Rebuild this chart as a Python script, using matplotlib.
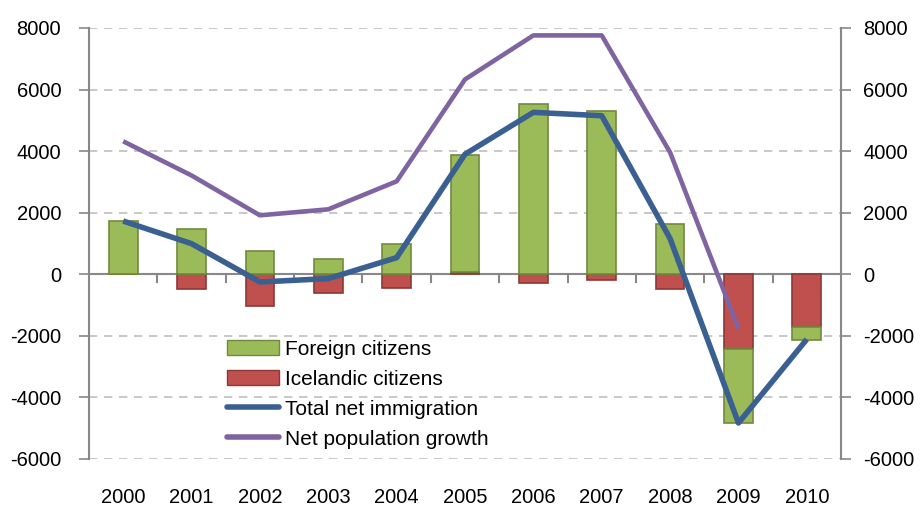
import matplotlib.pyplot as plt
import numpy as np
from matplotlib.lines import Line2D
from matplotlib.patches import Patch

years = ['2000', '2001', '2002', '2003', '2004', '2005', '2006', '2007', '2008', '2009', '2010']
icelandic = [0, -490, -1040, -620, -455, 80, -280, -170, -490, -2435, -1710]
foreign = [1720, 1460, 760, 490, 985, 3780, 5540, 5300, 1620, -2395, -430]
total_net = [1730, 995, -250, -140, 540, 3900, 5260, 5150, 1160, -4830, -2110]
pop_growth = [4320, 3210, 1915, 2110, 3020, 6330, 7760, 7760, 3960, -1760, np.nan]

green, green_edge = '#9BBB59', '#71893F'
red, red_edge = '#C0504D', '#8C3836'
blue = '#3A6091'
purple = '#8064A2'
grey = '#888888'

plt.rcParams['font.family'] = ['Liberation Sans', 'DejaVu Sans']
plt.rcParams['axes.unicode_minus'] = False

fig = plt.figure(figsize=(9.21, 5.08), dpi=100)
ax = fig.add_axes([89 / 921, 1 - 459 / 508, 752 / 921, 431 / 508])

x = np.arange(len(years))
ice = np.array(icelandic, dtype=float)
fgn = np.array(foreign, dtype=float)

# Excel-style stacking: positives on positives, negatives on negatives
ice_bottom = np.zeros_like(ice)
fgn_bottom = np.where(np.sign(fgn) == np.sign(ice), ice, 0)

w = 0.42
ax.bar(x, ice, w, bottom=ice_bottom, color=red, edgecolor=red_edge, linewidth=1.2, zorder=3)
ax.bar(x, fgn, w, bottom=fgn_bottom, color=green, edgecolor=green_edge, linewidth=1.2, zorder=3)

ax.plot(x, total_net, color=blue, lw=4, zorder=5, solid_capstyle='butt')
ax.plot(x, pop_growth, color=purple, lw=3.3, zorder=4, solid_capstyle='butt')

ax.set_xlim(-0.5, len(years) - 0.5)
ax.set_ylim(-6000, 8000)
yt = np.arange(-6000, 8001, 2000)
ax.set_yticks(yt)
for v in yt:
    if v != 0:
        ax.axhline(v, color='#BFBFBF', lw=1.2, ls=(0, (5, 4)), zorder=1)
ax.axhline(0, color=grey, lw=1.5, zorder=2)

for s in ['top', 'bottom', 'right']:
    ax.spines[s].set_visible(False)
ax.spines['left'].set_color(grey)
ax.spines['left'].set_linewidth(1.5)

ax.tick_params(axis='y', direction='out', length=7, width=1.2, color=grey, labelsize=14.5, pad=13)
ax.set_xticks(x)
ax.set_xticklabels(years)
ax.tick_params(axis='x', length=0, labelsize=14.5, pad=21)

# category boundary tick marks on the zero line
for b in np.arange(0.5, len(years) - 1, 1.0):
    ax.plot([b, b], [0, -260], color=grey, lw=1.5, zorder=2)

ax2 = ax.twinx()
ax2.set_ylim(-6000, 8000)
ax2.set_yticks(yt)
for s in ['top', 'bottom', 'left']:
    ax2.spines[s].set_visible(False)
ax2.spines['right'].set_color(grey)
ax2.spines['right'].set_linewidth(1.5)
ax2.tick_params(axis='y', direction='out', length=7, width=1.2, color=grey, labelsize=14.5, pad=9)

handles = [
    Patch(facecolor=green, edgecolor=green_edge, label='Foreign citizens'),
    Patch(facecolor=red, edgecolor=red_edge, label='Icelandic citizens'),
    Line2D([], [], color=blue, lw=4, label='Total net immigration', solid_capstyle='round'),
    Line2D([], [], color=purple, lw=4, label='Net population growth', solid_capstyle='round'),
]
ax.legend(handles=handles, loc='upper left', bbox_to_anchor=(0.1835, 0.277),
          frameon=False, fontsize=15, handlelength=2.5, handleheight=0.7,
          labelspacing=0.53, borderaxespad=0, borderpad=0, handletextpad=0.28)

fig.savefig('out.png', dpi=100)
